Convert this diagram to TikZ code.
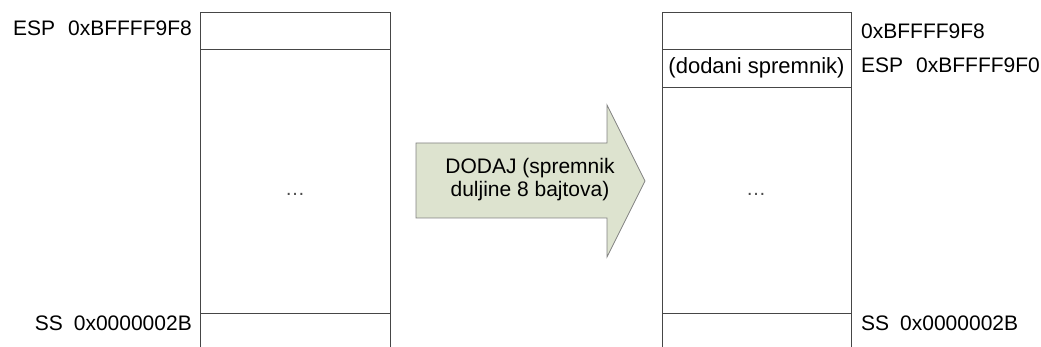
\documentclass[tikz,border=0pt]{standalone}
\usepackage{fontspec}
\setmainfont{Liberation Sans}
\definecolor{arrowfill}{RGB}{221,227,207}
\definecolor{arrowline}{RGB}{130,130,130}
\definecolor{cellline}{RGB}{70,70,70}
\tikzset{
  cell/.style={draw=cellline, line width=0.9pt, anchor=north west, inner sep=0pt, outer sep=0pt},
  lbl/.style={inner sep=0pt, font=\fontsize{21}{23}\selectfont},
  dotsfont/.style={inner sep=0pt, font=\fontsize{20}{22}\selectfont, text=black!70},
  arrowtext/.style={align=center, inner sep=0pt, font=\fontsize{21}{23}\selectfont}
}
\begin{document}
\begin{tikzpicture}[x=1pt, y=-1pt]
\useasboundingbox (0,0) rectangle (1041,347);
\clip (0,0) rectangle (1041,347);

% stack before the allocation
\node[cell, minimum width=190pt, minimum height=37pt] (l1) at (200,12) {};
\node[cell, minimum width=190pt, minimum height=264pt] (l2) at (200,49) {};
\node[cell, minimum width=190pt, minimum height=45pt] (l3) at (200,313) {};
\node[dotsfont, anchor=base] (ldots) at (295,196) {…};

\node[lbl, anchor=base east] (lesp) at (192,36) {ESP\hspace{13pt}0xBFFFF9F8};
\node[lbl, anchor=base east] (lss) at (192,330) {SS\hspace{11pt}0x0000002B};

% allocation arrow
\draw[draw=arrowline, fill=arrowfill, line width=0.8pt]
  (416,143) -- (607,143) -- (607,105) -- (645,181) -- (607,257)
  -- (607,218) -- (416,218) -- cycle;
\node[arrowtext] (op) at (530,180) {DODAJ (spremnik\\duljine 8 bajtova)};

% stack after the allocation
\node[cell, minimum width=189pt, minimum height=37pt] (r1) at (662,12) {};
\node[cell, minimum width=189pt, minimum height=38pt,
      font=\fontsize{22}{24}\selectfont] (r2) at (662,49) {(dodani spremnik)};
\node[cell, minimum width=189pt, minimum height=226pt] (r3) at (662,87) {};
\node[cell, minimum width=189pt, minimum height=45pt] (r4) at (662,313) {};
\node[dotsfont, anchor=base] (rdots) at (756,196) {…};

\node[lbl, anchor=base west] (rtop) at (861,39) {0xBFFFF9F8};
\node[lbl, anchor=base west] (resp) at (861,73) {ESP\hspace{13pt}0xBFFFF9F0};
\node[lbl, anchor=base west] (rss) at (861,330) {SS\hspace{11pt}0x0000002B};
\end{tikzpicture}
\end{document}
